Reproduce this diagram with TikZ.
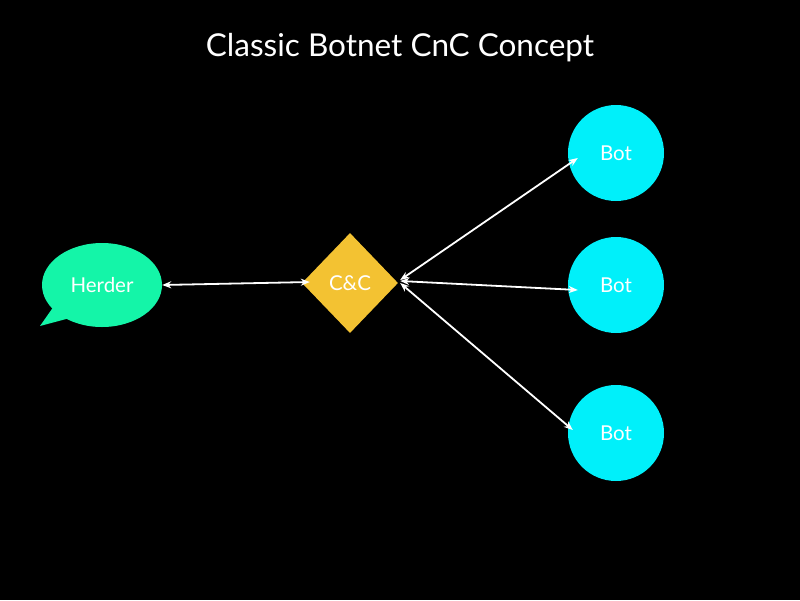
\documentclass[tikz,border=0pt]{standalone}
\usepackage{fontspec}
\setmainfont{Lato}
\usetikzlibrary{shapes.geometric,arrows.meta,calc}
\definecolor{herdergreen}{HTML}{14F5A8}
\definecolor{ccgold}{HTML}{F3C232}
\definecolor{botcyan}{HTML}{00F0FA}
\tikzset{
  lbl/.style={text=white,font=\fontsize{20.5}{22}\selectfont},
  botnode/.style={circle,fill=botcyan,minimum size=96pt,inner sep=0pt,lbl},
  link/.style={draw=white,line width=1.8pt,{Stealth[length=9pt,width=7pt]}-{Stealth[length=9pt,width=7pt]}},
}
\begin{document}
\begin{tikzpicture}[x=1pt,y=-1pt]
\fill[black] (0,0) rectangle (800,600);
\useasboundingbox (0,0) rectangle (800,600);
\node[text=white,font=\fontsize{31.5}{34}\selectfont] (title) at (400,48) {Classic Botnet CnC Concept};
% herder speech bubble
\fill[herdergreen] (54,306) -- (40,326) -- (70,318) -- cycle;
\node[ellipse,fill=herdergreen,minimum width=120pt,minimum height=84pt,inner sep=0pt,lbl] (herder) at (102,285) {Herder};
% C&C diamond
\node[diamond,fill=ccgold,minimum width=96pt,minimum height=100pt,inner sep=0pt,lbl] (cc) at (350,283) {C\&C};
% bots
\node[botnode] (bot1) at (616,153) {Bot};
\node[botnode] (bot2) at (616,285) {Bot};
\node[botnode] (bot3) at (616,433) {Bot};
% connectors
\draw[link] (herder.east) -- ($(cc.west)+(8,-1)$);
\draw[link] ($(cc.east)+(2,-3)$) -- ($(bot1.west)+(10,5)$);
\draw[link] ($(cc.east)+(2,-2)$) -- ($(bot2.west)+(10,5)$);
\draw[link] ($(cc.east)+(2,0)$) -- ($(bot3.west)+(5,-3)$);
\end{tikzpicture}
\end{document}
